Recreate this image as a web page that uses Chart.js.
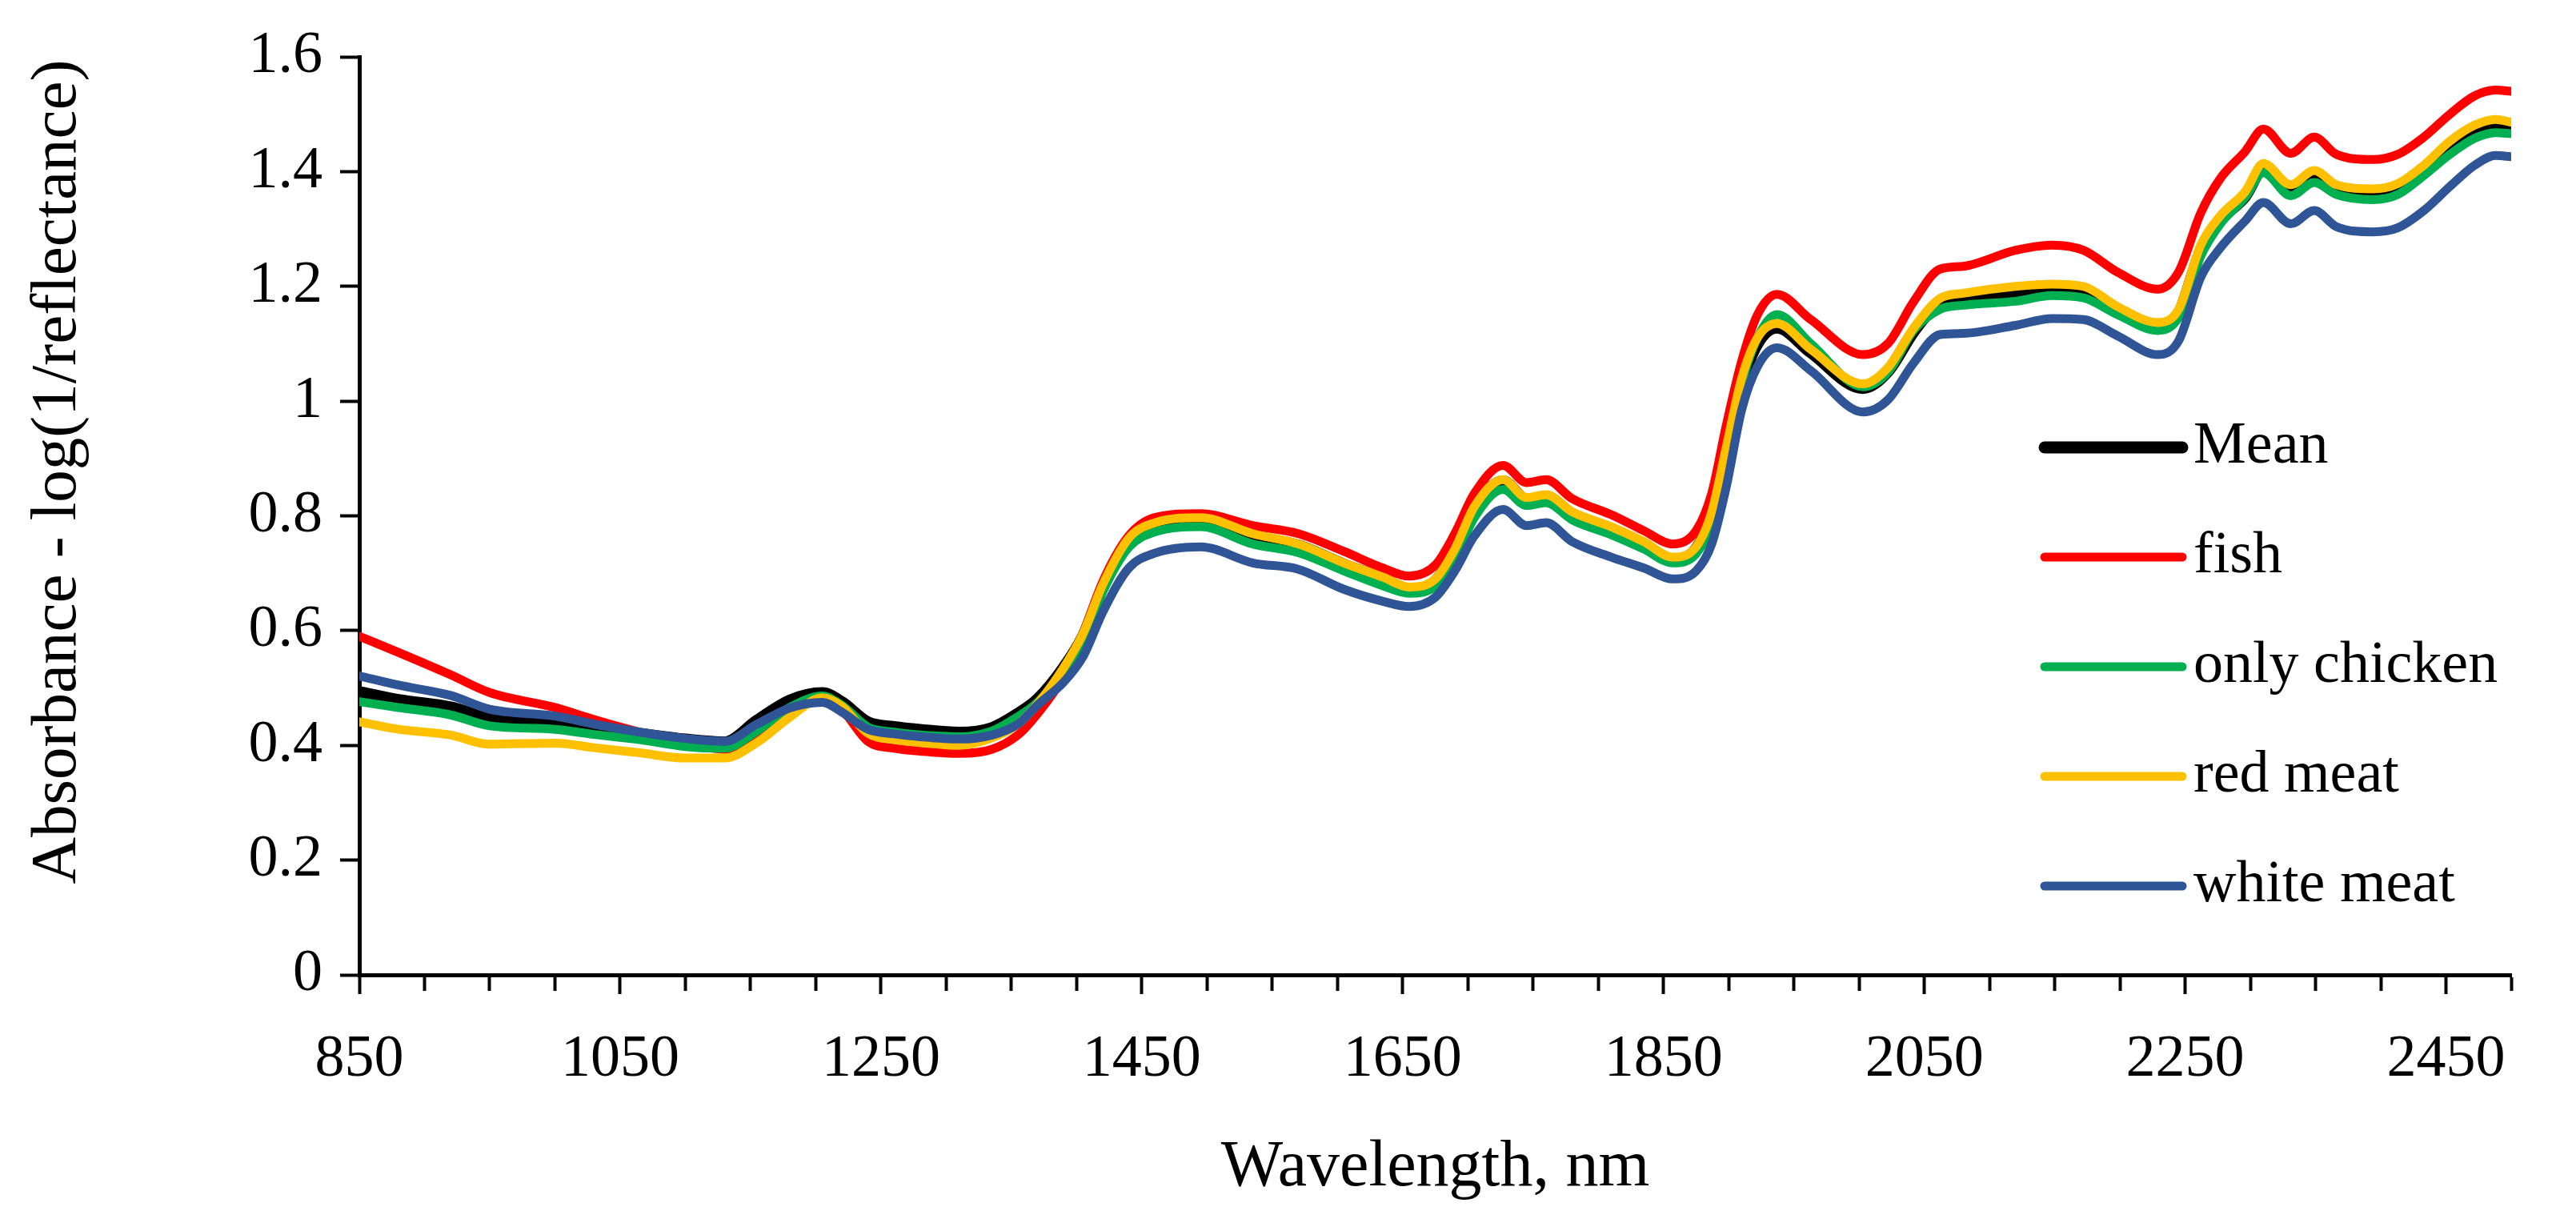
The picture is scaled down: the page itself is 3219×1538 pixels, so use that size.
<!DOCTYPE html>
<html>
<head>
<meta charset="utf-8">
<script src="https://cdn.jsdelivr.net/npm/chart.js@4.4.1/dist/chart.umd.min.js"></script>
<style>
html,body{margin:0;padding:0;background:#fff;overflow:hidden}
#wrap{width:3219px;height:1538px}
</style>
</head>
<body>
<div id="wrap"><canvas id="c" width="3219" height="1538"></canvas></div>
<script>
// ---- data ----
const wavelengths = [850, 880, 920, 950, 1000, 1030, 1065, 1100, 1130, 1155, 1180, 1205, 1220, 1240, 1260, 1280, 1310, 1335, 1355, 1370, 1390, 1405, 1420, 1440, 1460, 1495, 1535, 1570, 1605, 1635, 1655, 1675, 1690, 1705, 1727, 1745, 1760, 1780, 1810, 1835, 1857, 1875, 1887, 1898, 1910, 1922, 1937, 1963, 2003, 2022, 2042, 2062, 2080, 2120, 2148, 2172, 2198, 2229, 2245, 2262, 2277, 2296, 2310, 2331, 2349, 2366, 2394, 2413, 2433, 2453, 2472, 2488, 2500];

const meanValues = [0.493, 0.479, 0.466, 0.447, 0.437, 0.430, 0.420, 0.410, 0.405, 0.443, 0.478, 0.491, 0.475, 0.440, 0.432, 0.427, 0.422, 0.430, 0.455, 0.480, 0.535, 0.590, 0.675, 0.755, 0.782, 0.792, 0.765, 0.748, 0.715, 0.690, 0.672, 0.686, 0.738, 0.812, 0.860, 0.828, 0.833, 0.803, 0.777, 0.750, 0.723, 0.742, 0.800, 0.910, 1.030, 1.100, 1.128, 1.085, 1.023, 1.052, 1.122, 1.172, 1.180, 1.188, 1.196, 1.192, 1.158, 1.128, 1.152, 1.262, 1.315, 1.357, 1.405, 1.368, 1.393, 1.368, 1.361, 1.370, 1.402, 1.443, 1.468, 1.477, 1.474];

const fishValues = [0.590, 0.562, 0.523, 0.492, 0.466, 0.445, 0.423, 0.405, 0.393, 0.412, 0.455, 0.480, 0.462, 0.407, 0.395, 0.390, 0.386, 0.393, 0.418, 0.455, 0.520, 0.595, 0.685, 0.765, 0.797, 0.804, 0.783, 0.769, 0.738, 0.709, 0.695, 0.714, 0.769, 0.839, 0.888, 0.858, 0.863, 0.830, 0.802, 0.774, 0.751, 0.774, 0.839, 0.956, 1.070, 1.150, 1.186, 1.142, 1.081, 1.100, 1.174, 1.230, 1.235, 1.263, 1.272, 1.263, 1.225, 1.195, 1.225, 1.328, 1.388, 1.435, 1.474, 1.432, 1.460, 1.430, 1.421, 1.430, 1.460, 1.500, 1.532, 1.542, 1.540];

const chickenValues = [0.476, 0.466, 0.453, 0.434, 0.428, 0.419, 0.410, 0.398, 0.395, 0.425, 0.466, 0.486, 0.470, 0.432, 0.423, 0.418, 0.415, 0.425, 0.450, 0.475, 0.530, 0.585, 0.668, 0.745, 0.772, 0.781, 0.751, 0.736, 0.704, 0.678, 0.665, 0.677, 0.725, 0.797, 0.846, 0.818, 0.823, 0.793, 0.767, 0.742, 0.718, 0.734, 0.788, 0.900, 1.030, 1.110, 1.151, 1.100, 1.025, 1.050, 1.124, 1.160, 1.167, 1.174, 1.184, 1.180, 1.151, 1.123, 1.146, 1.253, 1.309, 1.355, 1.398, 1.358, 1.381, 1.360, 1.351, 1.360, 1.393, 1.430, 1.458, 1.468, 1.466];

const redMeatValues = [0.441, 0.428, 0.418, 0.402, 0.404, 0.396, 0.387, 0.378, 0.378, 0.405, 0.449, 0.483, 0.468, 0.421, 0.410, 0.405, 0.400, 0.413, 0.437, 0.472, 0.535, 0.595, 0.680, 0.761, 0.788, 0.797, 0.769, 0.751, 0.718, 0.693, 0.676, 0.690, 0.742, 0.816, 0.863, 0.832, 0.837, 0.807, 0.781, 0.755, 0.728, 0.746, 0.807, 0.918, 1.040, 1.110, 1.135, 1.090, 1.030, 1.058, 1.128, 1.179, 1.188, 1.200, 1.204, 1.200, 1.165, 1.137, 1.160, 1.272, 1.323, 1.365, 1.414, 1.377, 1.402, 1.377, 1.370, 1.379, 1.411, 1.453, 1.481, 1.491, 1.486];

const whiteMeatValues = [0.521, 0.505, 0.487, 0.463, 0.451, 0.437, 0.423, 0.412, 0.407, 0.437, 0.465, 0.475, 0.458, 0.428, 0.420, 0.415, 0.411, 0.418, 0.437, 0.470, 0.510, 0.555, 0.632, 0.709, 0.735, 0.746, 0.718, 0.707, 0.672, 0.651, 0.642, 0.658, 0.704, 0.765, 0.811, 0.783, 0.788, 0.755, 0.728, 0.709, 0.690, 0.704, 0.751, 0.849, 0.985, 1.060, 1.093, 1.053, 0.981, 1.002, 1.067, 1.116, 1.118, 1.132, 1.144, 1.142, 1.114, 1.081, 1.105, 1.216, 1.267, 1.314, 1.346, 1.309, 1.332, 1.304, 1.295, 1.302, 1.332, 1.374, 1.411, 1.428, 1.426];

const seriesNames = ['Mean', 'fish', 'only chicken', 'red meat', 'white meat'];
const seriesValues = [meanValues, fishValues, chickenValues, redMeatValues, whiteMeatValues];
const seriesColors = ['#000000', '#FF0000', '#00B050', '#FFC000', '#2F5597'];

const xMin = 850, xMax = 2500, xMinorStep = 50, xMajorStep = 200;
const yMin = 0, yMax = 1.6, yStep = 0.2;
const xTitle = 'Wavelength, nm';
const yTitle = 'Absorbance - log(1/reflectance)';

// ---- styling ----
const FONT = "'Liberation Serif', 'Times New Roman', serif";
const lineWidths = [15, 11, 11, 11, 11];

const datasets = seriesNames.map((name, i) => ({
  label: name,
  data: wavelengths.map((w, k) => ({x: w, y: seriesValues[i][k]})),
  borderColor: seriesColors[i],
  backgroundColor: seriesColors[i],
  borderWidth: lineWidths[i],
  pointRadius: 0,
  fill: false,
  cubicInterpolationMode: 'monotone',
  borderCapStyle: 'round',
  borderJoinStyle: 'round',
  order: seriesNames.length - i
}));

// legend drawn inside the plot area, as in the reference
const insideLegend = {
  id: 'insideLegend',
  afterDatasetsDraw(chart) {
    const {ctx, chartArea} = chart;
    const lineStart = chartArea.right - 583;
    const lineEnd = chartArea.right - 411;
    const textX = chartArea.right - 397;
    const firstY = chartArea.top + 488;
    const gap = 137;
    ctx.save();
    ctx.font = "74px " + FONT;
    ctx.textBaseline = 'middle';
    ctx.textAlign = 'left';
    chart.data.datasets.forEach((ds, i) => {
      const y = firstY + i * gap;
      ctx.beginPath();
      ctx.lineCap = 'round';
      ctx.strokeStyle = ds.borderColor;
      ctx.lineWidth = ds.borderWidth;
      ctx.moveTo(lineStart, y);
      ctx.lineTo(lineEnd, y);
      ctx.stroke();
      ctx.fillStyle = '#000';
      ctx.fillText(ds.label, textX, y);
    });
    ctx.restore();
  }
};

// y-axis title, placed a little above the plot's vertical centre like the reference
const yAxisTitle = {
  id: 'yAxisTitle',
  afterDraw(chart) {
    const {ctx, chartArea} = chart;
    const t = chart.options.scales.y.title;
    ctx.save();
    ctx.translate(chartArea.left - 376, (chartArea.top + chartArea.bottom) / 2 - 55);
    ctx.rotate(-Math.PI / 2);
    ctx.font = "81px " + FONT;
    ctx.fillStyle = '#000';
    ctx.textAlign = 'center';
    ctx.textBaseline = 'middle';
    ctx.fillText(t.text, 0, 0);
    ctx.restore();
  }
};

new Chart(document.getElementById('c'), {
  type: 'line',
  data: {datasets},
  plugins: [insideLegend, yAxisTitle],
  options: {
    responsive: false,
    devicePixelRatio: 1,
    animation: false,
    layout: {padding: {left: 0, top: 71, right: 81, bottom: 0}},
    plugins: {legend: {display: false}, tooltip: {enabled: false}},
    scales: {
      x: {
        type: 'linear',
        min: xMin, max: xMax,
        afterFit(s) { s.height = 320; },
        ticks: {
          stepSize: xMinorStep,
          autoSkip: false,
          maxRotation: 0,
          padding: 38,
          color: '#000',
          font: {family: FONT, size: 74},
          callback: v => ((v - xMin) % xMajorStep === 0 ? String(v) : '')
        },
        grid: {
          drawOnChartArea: false,
          drawTicks: true,
          tickLength: 24,
          tickColor: '#000',
          tickWidth: 4,
          tickBorderDash: c => ((c.tick && (c.tick.value - xMin) % xMajorStep === 0) ? [] : [17, 400])
        },
        border: {display: true, color: '#000', width: 5},
        title: {display: true, text: xTitle, color: '#000', font: {family: FONT, size: 82}, padding: {top: 0, bottom: 29}}
      },
      y: {
        type: 'linear',
        min: yMin, max: yMax,
        afterFit(s) { s.width = 449; },
        ticks: {
          stepSize: yStep,
          padding: 22,
          color: '#000',
          font: {family: FONT, size: 74},
          callback: v => String(Math.round(v * 10) / 10)
        },
        grid: {
          drawOnChartArea: false,
          drawTicks: true,
          tickLength: 24,
          tickColor: '#000',
          tickWidth: 4
        },
        border: {display: true, color: '#000', width: 5},
        title: {display: false, text: yTitle, color: '#000', font: {family: FONT, size: 81}}
      }
    }
  }
});
</script>
</body>
</html>
